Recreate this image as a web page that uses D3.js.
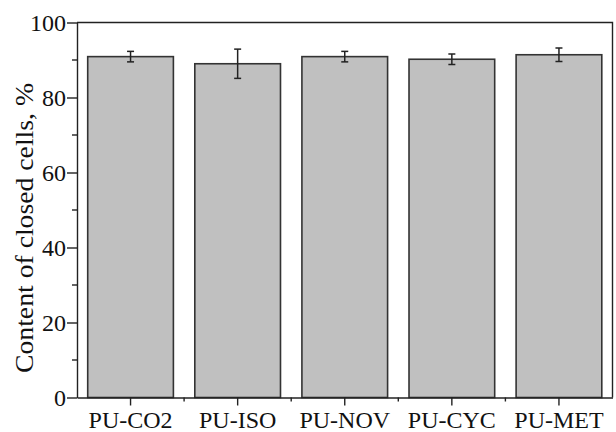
<!DOCTYPE html>
<html><head><meta charset="utf-8">
<script src="https://cdn.jsdelivr.net/npm/d3@7"></script>
<style>body{margin:0;background:#fff}svg{display:block}</style>
</head><body>
<script>
const categories = ["PU-CO2","PU-ISO","PU-NOV","PU-CYC","PU-MET"];
const values = [90.9, 89.0, 90.9, 90.2, 91.4];
const errors = [1.4, 3.9, 1.4, 1.4, 1.8];
const yTicks = [0,20,40,60,80,100];
const yTitle = "Content of closed cells, %";

const W=616,H=432;
const m={l:77,r:3.5,t:22.5,b:34.5};
const svg=d3.select("body").append("svg").attr("width",W).attr("height",H);
const x=d3.scaleBand().domain(categories).range([m.l,W-m.r]).paddingInner(0.2).paddingOuter(0.1);
const xb=d3.scaleBand().domain(categories).range([m.l,W-m.r]);
const y=d3.scaleLinear().domain([0,100]).range([H-m.b,m.t]);
const font="'Liberation Serif', serif";

// bars
svg.selectAll("rect.bar").data(categories).join("rect")
  .attr("x",d=>x(d)).attr("width",x.bandwidth())
  .attr("y",(d,i)=>y(values[i])).attr("height",(d,i)=>y(0)-y(values[i]))
  .attr("fill","#c0c0c0").attr("stroke","#333").attr("stroke-width",1.6);

// error bars
const cap=3.5;
categories.forEach((c,i)=>{
  const cx=x(c)+x.bandwidth()/2;
  const g=svg.append("g").attr("stroke","#222").attr("stroke-width",1.5);
  g.append("line").attr("x1",cx).attr("x2",cx).attr("y1",y(values[i]+errors[i])).attr("y2",y(values[i]-errors[i]));
  g.append("line").attr("x1",cx-cap).attr("x2",cx+cap).attr("y1",y(values[i]+errors[i])).attr("y2",y(values[i]+errors[i]));
  g.append("line").attr("x1",cx-cap).attr("x2",cx+cap).attr("y1",y(values[i]-errors[i])).attr("y2",y(values[i]-errors[i]));
});

// frame
svg.append("path").attr("d",`M${m.l},${m.t}H${W-m.r}V${H-m.b}`).attr("fill","none").attr("stroke","#222").attr("stroke-width",1.4);

// y axis
const ya=svg.append("g").attr("transform",`translate(${m.l},0)`)
  .call(d3.axisLeft(y).tickValues(yTicks).tickSize(10).tickSizeOuter(0).tickPadding(1));
ya.append("g").selectAll("line").data(d3.range(10,100,20)).join("line")
  .attr("x1",-5).attr("x2",0).attr("y1",d=>y(d)).attr("y2",d=>y(d)).attr("stroke","#222").attr("stroke-width",1.4);

// x axis
const xa=svg.append("g").attr("transform",`translate(0,${H-m.b})`)
  .call(d3.axisBottom(xb).tickSize(8).tickSizeOuter(0).tickPadding(5));
xa.append("g").selectAll("line").data(categories.slice(1)).join("line")
  .attr("x1",d=>xb(d)).attr("x2",d=>xb(d)).attr("y1",0).attr("y2",4).attr("stroke","#222").attr("stroke-width",1.4);

[ya,xa].forEach(a=>{
  a.selectAll(".domain").attr("stroke","#222").attr("stroke-width",1.4);
  a.selectAll(".tick line").attr("stroke","#222").attr("stroke-width",1.4);
  a.selectAll("text").attr("font-family",font).attr("fill","#111");
});
ya.selectAll("text").attr("font-size",24);
xa.selectAll("text").attr("font-size",24).attr("dy","0.71em");

svg.append("text").attr("transform",`translate(33,228) rotate(-90)`)
  .attr("text-anchor","middle").attr("font-family",font).attr("font-size",25).attr("fill","#111")
  .attr("textLength",290).attr("lengthAdjust","spacingAndGlyphs")
  .text(yTitle);
</script>
</body></html>
